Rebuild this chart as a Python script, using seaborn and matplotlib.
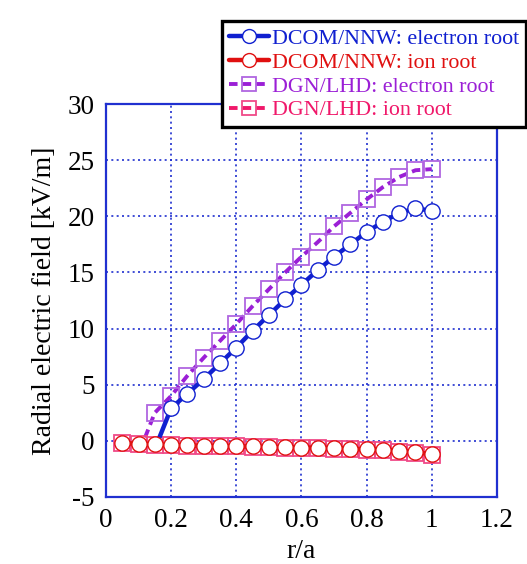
import matplotlib
matplotlib.use("Agg")
import matplotlib.pyplot as plt
import seaborn as sns
import numpy as np

sns.set_theme(style="white")
plt.rcParams['font.family'] = ['Liberation Serif', 'DejaVu Serif']
plt.rcParams['axes.unicode_minus'] = False

# ---- data ----
# DCOM/NNW electron root (first point is the line start at the root transition, no marker)
dcom_e_x = [0.16, 0.20, 0.25, 0.30, 0.35, 0.40, 0.45, 0.50, 0.55, 0.60, 0.65,
            0.70, 0.75, 0.80, 0.85, 0.90, 0.95, 1.00]
dcom_e_y = [0.0, 2.9, 4.2, 5.5, 6.9, 8.3, 9.8, 11.2, 12.6, 13.9, 15.2,
            16.4, 17.5, 18.6, 19.5, 20.3, 20.7, 20.5]

# DCOM/NNW ion root
dcom_i_x = [0.05, 0.10, 0.15, 0.20, 0.25, 0.30, 0.35, 0.40, 0.45, 0.50,
            0.55, 0.60, 0.65, 0.70, 0.75, 0.80, 0.85, 0.90, 0.95, 1.00]
dcom_i_y = [-0.2, -0.25, -0.3, -0.4, -0.4, -0.45, -0.45, -0.5, -0.5, -0.55,
            -0.55, -0.6, -0.6, -0.65, -0.7, -0.75, -0.8, -0.9, -1.0, -1.2]

# DGN/LHD electron root (first point is the line start, no marker)
dgn_e_x = [0.12, 0.15, 0.20, 0.25, 0.30, 0.35, 0.40, 0.45, 0.50, 0.55, 0.60,
           0.65, 0.70, 0.75, 0.80, 0.85, 0.90, 0.95, 1.00]
dgn_e_y = [0.3, 2.5, 4.0, 5.8, 7.4, 8.9, 10.4, 12.0, 13.5, 15.0, 16.4,
           17.7, 19.1, 20.3, 21.5, 22.6, 23.5, 24.1, 24.2]

# DGN/LHD ion root
dgn_i_x = [0.05, 0.10, 0.15, 0.20, 0.25, 0.30, 0.35, 0.40, 0.45, 0.50,
           0.55, 0.60, 0.65, 0.70, 0.75, 0.80, 0.85, 0.90, 0.95, 1.00]
dgn_i_y = [-0.2, -0.3, -0.35, -0.4, -0.45, -0.45, -0.5, -0.5, -0.55, -0.55,
           -0.6, -0.6, -0.65, -0.7, -0.75, -0.8, -0.85, -0.95, -1.05, -1.25]

labels = ["DCOM/NNW: electron root", "DCOM/NNW: ion root",
          "DGN/LHD: electron root", "DGN/LHD: ion root"]
x_ticks = [0, 0.2, 0.4, 0.6, 0.8, 1, 1.2]
x_ticklabels = ["0", "0.2", "0.4", "0.6", "0.8", "1", "1.2"]
y_ticks = [-5, 0, 5, 10, 15, 20, 25, 30]
y_ticklabels = ["-5", "0", "5", "10", "15", "20", "25", "30"]

c_blue = "#1020d0"
c_red = "#e01010"
c_purple = "#9b1fd6"
c_purple_m = "#b066e0"
c_pink = "#f0186a"
c_pink_m = "#f04a88"
axis_blue = "#2030d0"

fig = plt.figure(figsize=(5.27, 5.64), dpi=100)
ax = fig.add_axes([0.201, 0.1188, 0.742, 0.6968])

# DGN series (dashed, open squares)
sns.lineplot(x=dgn_e_x, y=dgn_e_y, ax=ax, sort=False, color=c_purple, lw=2.8,
             linestyle=(0, (2.2, 1.3)), marker='s', ms=12, mfc='none', mec=c_purple_m,
             mew=1.3, markevery=slice(1, None), label=labels[2], zorder=3)
sns.lineplot(x=dgn_i_x, y=dgn_i_y, ax=ax, sort=False, color=c_pink, lw=2.8,
             linestyle=(0, (2.2, 1.3)), marker='s', ms=12, mfc='none', mec=c_pink_m,
             mew=1.3, label=labels[3], zorder=3)
# DCOM series (solid, open circles)
sns.lineplot(x=dcom_e_x, y=dcom_e_y, ax=ax, sort=False, color=c_blue, lw=3.2,
             marker='o', ms=11, mfc='white', mec=c_blue, mew=1.0,
             markevery=slice(1, None), label=labels[0], zorder=4)
sns.lineplot(x=dcom_i_x, y=dcom_i_y, ax=ax, sort=False, color=c_red, lw=3.2,
             marker='o', ms=11, mfc='white', mec=c_red, mew=1.0,
             label=labels[1], zorder=4)

ax.set_xlim(0, 1.2)
ax.set_ylim(-5, 30)
ax.set_xticks(x_ticks)
ax.set_xticklabels(x_ticklabels)
ax.set_yticks(y_ticks)
ax.set_yticklabels(y_ticklabels)
ax.grid(True, color=axis_blue, linestyle=(0, (1.2, 2.0)), linewidth=1.2)
for s in ax.spines.values():
    s.set_color(axis_blue)
    s.set_linewidth(1.6)
ax.tick_params(axis='both', direction='in', length=4, color=axis_blue,
               labelsize=19.5, labelcolor='black', pad=8)
ax.set_xlabel("r/a", fontsize=20, color='black', labelpad=4)
ax.set_ylabel("Radial electric field [kV/m]", fontsize=20, color='black', labelpad=8)

# legend order
handles, labs = ax.get_legend_handles_labels()
if ax.get_legend() is not None:
    ax.get_legend().remove()
order = [labs.index(l) for l in labels]
leg = fig.legend([handles[i] for i in order], [labs[i] for i in order],
                 loc='upper right', bbox_to_anchor=(0.998, 0.962),
                 bbox_transform=fig.transFigure, frameon=True, fancybox=False,
                 fontsize=15.8, handlelength=1.8, handletextpad=0.15,
                 borderpad=0.32, labelspacing=0.16, borderaxespad=0)
leg.get_frame().set_edgecolor('black')
leg.get_frame().set_linewidth(2.4)
leg.get_frame().set_facecolor('white')
leg.get_frame().set_alpha(1)
text_colors = [c_blue, c_red, c_purple, c_pink]
for t, c in zip(leg.get_texts(), text_colors):
    t.set_color(c)
for h in leg.legend_handles:
    h.set_markersize(10)

fig.savefig("out.png", dpi=100)
